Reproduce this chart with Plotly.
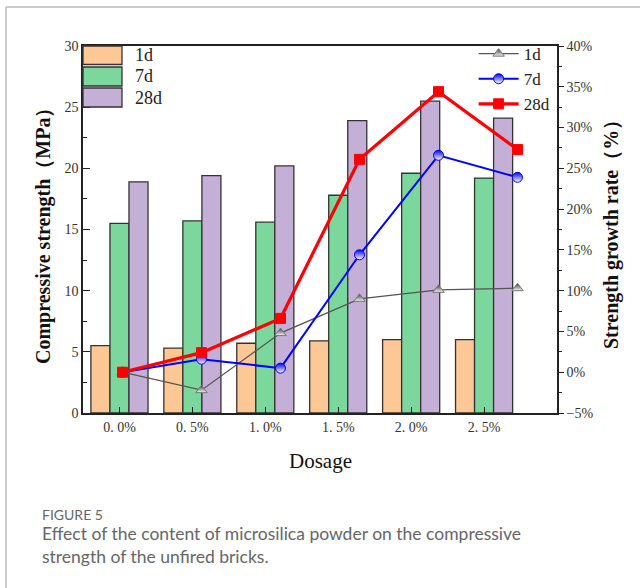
import plotly.graph_objects as go

# ---- data ----
dosage = ["0. 0%", "0. 5%", "1. 0%", "1. 5%", "2. 0%", "2. 5%"]
strength_1d = [5.5, 5.3, 5.7, 5.9, 6.0, 6.0]
strength_7d = [15.5, 15.7, 15.6, 17.8, 19.6, 19.2]
strength_28d = [18.9, 19.4, 20.2, 23.9, 25.5, 24.1]
growth_1d = [0.0, -2.2, 4.8, 9.0, 10.1, 10.3]
growth_7d = [0.0, 1.6, 0.5, 14.4, 26.6, 23.9]
growth_28d = [0.0, 2.4, 6.6, 26.1, 34.4, 27.3]
series_names = ["1d", "7d", "28d"]

bar_colors = ["#FDC896", "#7BD79B", "#C4B0D6"]
line_colors = ["#555555", "#0000FF", "#FF0000"]

SERIF = "Liberation Serif"
fig = go.Figure()

for name, vals, col in zip(series_names, [strength_1d, strength_7d, strength_28d], bar_colors):
    fig.add_trace(go.Bar(
        x=dosage, y=vals, name=name, marker=dict(color=col, line=dict(color="#333333", width=1.3)),
        showlegend=False, xaxis="x", yaxis="y"))

idx = list(range(len(dosage)))
line_specs = [
    (growth_1d, "triangle-up", 1.3, 10, line_colors[0]),
    (growth_7d, "circle", 2.0, 10, line_colors[1]),
    (growth_28d, "square", 3.2, 10, line_colors[2]),
]
for name, (vals, sym, w, sz, col) in zip(series_names, line_specs):
    marker = dict(symbol=sym, size=sz, color=col, line=dict(color=col, width=1))
    if name == "1d":
        marker["color"] = "#3a3a3a"
        marker["gradient"] = dict(type="vertical", color="#f4f4f4")
        marker["line"] = dict(color="#777777", width=1)
    elif name == "7d":
        marker["gradient"] = dict(type="vertical", color="white")
    fig.add_trace(go.Scatter(
        x=idx, y=vals, name=name, mode="lines+markers",
        line=dict(color=col, width=w), marker=marker,
        xaxis="x2", yaxis="y2", legend="legend2"))

tickfont = dict(family=SERIF, size=14, color="#333333")

fig.update_layout(
    width=640, height=588,
    paper_bgcolor="white", plot_bgcolor="white",
    margin=dict(l=83, r=83, t=46, b=175),
    barmode="group", bargap=0.217, bargroupgap=0,
    showlegend=True,
    xaxis=dict(type="category", categoryorder="array", categoryarray=dosage,
               range=[-0.5, 6.0], showline=True, linecolor="#222", linewidth=1.5, mirror=True,
               ticks="inside", ticklen=6, tickcolor="#222",
               minor=dict(ticks="inside", ticklen=5, tickcolor="#222"),
               tickfont=tickfont, showgrid=False, zeroline=False),
    xaxis2=dict(overlaying="x", range=[-0.5, 5.5], visible=False, showgrid=False, zeroline=False),
    yaxis=dict(range=[0, 30], dtick=5, showline=True, linecolor="#222", linewidth=1.5,
               ticks="inside", ticklen=7, tickcolor="#222",
               minor=dict(dtick=2.5, ticks="inside", ticklen=4, tickcolor="#222"),
               tickfont=tickfont, showgrid=False, zeroline=False),
    yaxis2=dict(overlaying="y", side="right", range=[-5, 40], dtick=5, ticksuffix="%",
                showline=True, linecolor="#222", linewidth=1.5,
                ticks="outside", ticklen=5, tickcolor="#222",
                minor=dict(dtick=2.5, ticks="outside", ticklen=3, tickcolor="#222"),
                tickfont=tickfont, showgrid=False, zeroline=False),
    legend2=dict(x=0.995, y=1.027, xanchor="right", yanchor="top", bgcolor="rgba(0,0,0,0)",
                 font=dict(family=SERIF, size=17, color="#222"), tracegroupgap=0,
                 itemwidth=40),
)

def xp(px):
    return (px - 83) / 474.0

def yp(py):
    return (413 - py) / 367.0

shapes = []
annotations = []
# manual legend for bars
rows = [(46, 64.5), (67, 86), (88, 107)]
for (top, bot), name, col in zip(rows, series_names, bar_colors):
    shapes.append(dict(type="rect", xref="paper", yref="paper", x0=xp(83), x1=xp(122),
                       y0=yp(bot), y1=yp(top), fillcolor=col, line=dict(color="#333", width=1.3)))
    annotations.append(dict(xref="paper", yref="paper", x=xp(133), y=yp((top + bot) / 2),
                            xanchor="left", yanchor="middle", showarrow=False, text=name,
                            font=dict(family=SERIF, size=18, color="#222")))

# figure frame
shapes.append(dict(type="line", xref="paper", yref="paper", x0=xp(6), x1=xp(645), y0=yp(7), y1=yp(7),
                   layer="above", line=dict(color="#bbbbbb", width=1.5)))
shapes.append(dict(type="line", xref="paper", yref="paper", x0=xp(6), x1=xp(6), y0=yp(7), y1=yp(595),
                   layer="above", line=dict(color="#bbbbbb", width=1.5)))

# axis titles
annotations.append(dict(xref="paper", yref="paper", x=xp(43), y=yp(231), textangle=-90,
                        xanchor="center", yanchor="middle",
                        showarrow=False, text="<b>Compressive strength（MPa）</b>",
                        font=dict(family=SERIF, size=20, color="#111")))
annotations.append(dict(xref="paper", yref="paper", x=xp(611), y=yp(230), textangle=-90,
                        xanchor="center", yanchor="middle",
                        showarrow=False, text="<b>Strength growth rate（%）</b>",
                        font=dict(family=SERIF, size=20, color="#111")))
annotations.append(dict(xref="paper", yref="paper", x=xp(320), y=yp(461), showarrow=False,
                        xanchor="center", yanchor="middle",
                        text="Dosage", font=dict(family=SERIF, size=21, color="#111")))
# caption
annotations.append(dict(xref="paper", yref="paper", x=xp(40), y=yp(514), xanchor="left",
                        yanchor="middle", showarrow=False, text="FIGURE 5",
                        font=dict(family="Lato", size=14, color="#666666")))
annotations.append(dict(xref="paper", yref="paper", x=xp(40), y=yp(533), xanchor="left",
                        yanchor="middle", showarrow=False,
                        text="Effect of the content of microsilica powder on the compressive",
                        font=dict(family="Lato", size=17.5, color="#666666")))
annotations.append(dict(xref="paper", yref="paper", x=xp(40), y=yp(556), xanchor="left",
                        yanchor="middle", showarrow=False,
                        text="strength of the unfired bricks.",
                        font=dict(family="Lato", size=17.5, color="#666666")))

fig.update_layout(shapes=shapes, annotations=annotations)
fig.write_html("out.html", config={"displayModeBar": False},
               post_script="document.body.style.margin='0px';document.body.style.overflow='hidden';")
